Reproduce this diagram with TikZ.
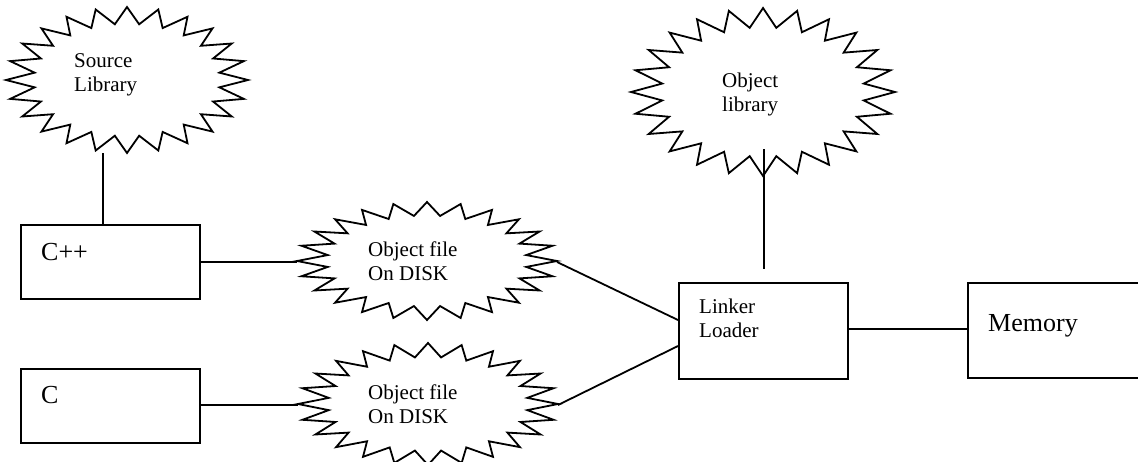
\documentclass[tikz,border=0pt]{standalone}
\usepackage{fontspec}
\setmainfont{Liberation Serif}
\usetikzlibrary{calc}

% 24-point starburst: centre (#1,#2), half-width #3, half-height #4
\newcommand\burstshape[4]{%
  \draw[burst] ({#1+#3},{#2})
    \foreach \k in {1,...,47}{
      -- ({#1+#3*(1-0.23*mod(\k,2))*cos(7.5*\k)},{#2+#4*(1-0.23*mod(\k,2))*sin(7.5*\k)})
    } -- cycle;}

\tikzset{
  burst/.style={line width=1.8pt, line join=miter, fill=white},
  box/.style={draw, line width=1.8pt, fill=white, inner sep=0pt, anchor=north west},
  link/.style={line width=1.8pt},
  txt/.style={anchor=north west, inner sep=0pt, align=left,
              font=\fontsize{21}{24}\selectfont},
  bigtxt/.style={anchor=base west, inner sep=0pt,
              font=\fontsize{26}{30}\selectfont},
}

\begin{document}
\begin{tikzpicture}[x=1pt, y=-1pt]
  \useasboundingbox (0,0) rectangle (1138,461);
  \clip (0,0) rectangle (1138,461);

  % starbursts
  \burstshape{127}{80}{121}{73}
  \burstshape{763}{92}{132}{84}
  \burstshape{427}{261}{130}{59}
  \burstshape{428}{404}{130}{61}

  \node[txt] (srclib) at (74,53)  {Source\\Library};
  \node[txt] (objlib) at (722,73) {Object\\library};
  \node[txt] (objf1)  at (368,242) {Object file\\On DISK};
  \node[txt] (objf2)  at (368,385) {Object file\\On DISK};

  % tips and ends of the starbursts used by the connectors
  \coordinate (srclib-s) at (103,153);
  \coordinate (objlib-s) at (764,149);
  \coordinate (objlib-e) at (764,269);
  \coordinate (objf1-w) at (297,262);
  \coordinate (objf1-e) at (557,262);
  \coordinate (objf2-w) at (298,405);
  \coordinate (objf2-e) at (558,405);

  % boxes
  \node[box, minimum width=179pt, minimum height=74pt] (cpp) at (20,224) {};
  \node[box, minimum width=179pt, minimum height=74pt] (cc)  at (20,368) {};
  \node[box, minimum width=169pt, minimum height=96pt] (ll)  at (678,282) {};
  \node[box, minimum width=190pt, minimum height=95pt] (mem) at (967,282) {};

  \node[bigtxt] (cpp-t) at (41,260) {C++};
  \node[bigtxt] (cc-t)  at (41,403) {C};
  \node[txt]    (ll-t)  at (699,299) {Linker\\Loader};
  \node[bigtxt] (mem-t) at (988,331) {Memory};

  % connectors
  \draw[link] (srclib-s) -- (srclib-s |- cpp.north);
  \draw[link] (cpp.east |- objf1-w) -- (objf1-w);
  \draw[link] (cc.east |- objf2-w) -- (objf2-w);
  \draw[link] (objf1-e) -- (ll.west |- 0,320);
  \draw[link] (objf2-e) -- (ll.west |- 0,346);
  \draw[link] (objlib-s) -- (objlib-e);
  \draw[link] (ll.east |- 0,329) -- (mem.west |- 0,329);
\end{tikzpicture}
\end{document}
